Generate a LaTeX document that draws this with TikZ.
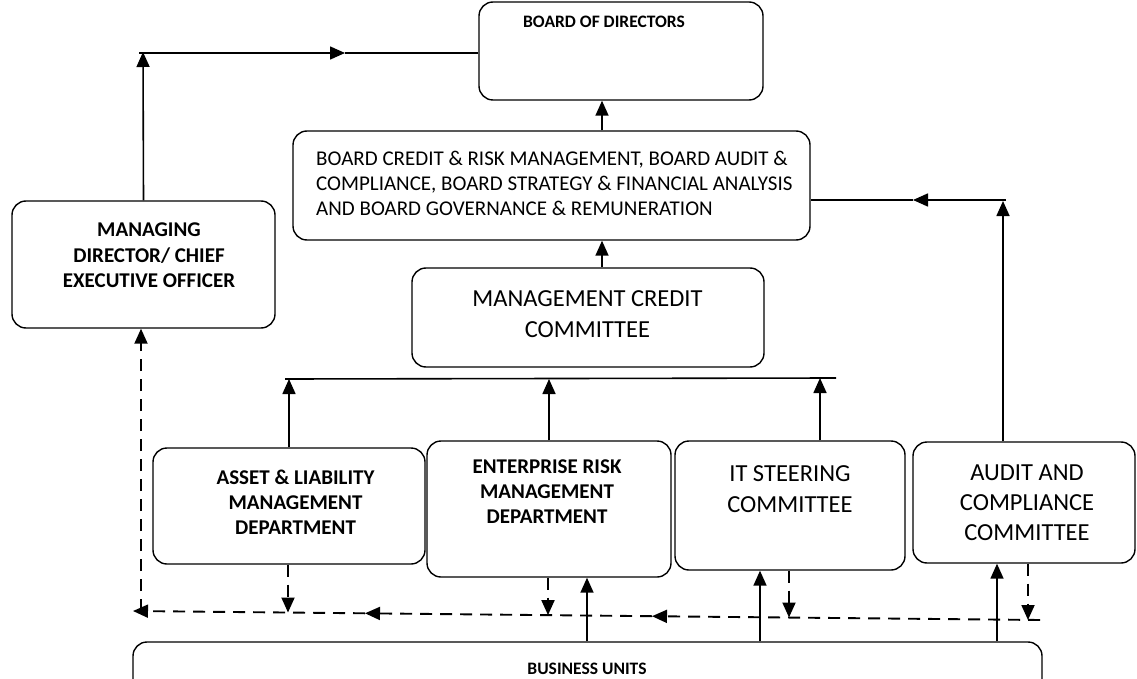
\documentclass[tikz,border=0pt]{standalone}
\usepackage{fontspec}
\setmainfont{Carlito}
\usetikzlibrary{arrows.meta}
\begin{document}
\begin{tikzpicture}[x=1pt,y=-1pt,
  box/.style={draw, line width=1.4pt, rounded corners=14pt, inner sep=0pt},
  txt/.style={align=center, inner sep=0pt},
  link/.style={line width=1.6pt},
  tip/.style={-{Triangle[length=15pt,width=13pt]}},
  dsh/.style={line width=1.9pt, dash pattern=on 12pt off 8pt}]
\useasboundingbox (0,0) rectangle (1137,679);
\clip (0,0) rectangle (1137,679);

% boxes
\node[box, minimum width=284, minimum height=98]  (board) at (621,51) {};
\node[box, minimum width=517, minimum height=109] (comm)  at (551.5,185.5) {};
\node[box, minimum width=263, minimum height=127] (md)    at (143.5,264.5) {};
\node[box, minimum width=352, minimum height=99]  (mcc)   at (588,317.5) {};
\node[box, minimum width=272, minimum height=116] (alm)   at (289,506) {};
\node[box, minimum width=244, minimum height=136] (erm)   at (549,509) {};
\node[box, minimum width=230, minimum height=129] (it)    at (790,505.5) {};
\node[box, minimum width=222, minimum height=121] (au)    at (1024,502.5) {};
\node[box, minimum width=909, minimum height=78]  (bu)    at (587.5,681) {};

% texts
\node[txt, font=\fontsize{17.5}{21}\selectfont\bfseries] (boardT) at (604,22) {BOARD OF DIRECTORS};
\node[txt, align=left, font=\fontsize{21}{25}\selectfont, anchor=west] (commT) at (316,183)
  {BOARD CREDIT \& RISK MANAGEMENT, BOARD AUDIT \&\\
   COMPLIANCE, BOARD STRATEGY \& FINANCIAL ANALYSIS\\
   AND BOARD GOVERNANCE \& REMUNERATION};
\node[txt, font=\fontsize{21}{25.5}\selectfont\bfseries] (mdT) at (149,255.5)
  {MANAGING\\DIRECTOR/ CHIEF\\EXECUTIVE OFFICER};
\node[txt, font=\fontsize{24.5}{31}\selectfont] (mccT) at (587.5,314.5)
  {MANAGEMENT CREDIT\\COMMITTEE};
\node[txt, font=\fontsize{21}{25}\selectfont\bfseries] (almT) at (295.5,502)
  {ASSET \& LIABILITY\\MANAGEMENT\\DEPARTMENT};
\node[txt, font=\fontsize{21}{25}\selectfont\bfseries] (ermT) at (547,492)
  {ENTERPRISE RISK\\MANAGEMENT\\DEPARTMENT};
\node[txt, font=\fontsize{24.5}{31}\selectfont] (itT) at (790,489)
  {IT STEERING\\COMMITTEE};
\node[txt, font=\fontsize{24.5}{30}\selectfont] (auT) at (1027,503)
  {AUDIT AND\\COMPLIANCE\\COMMITTEE};
\node[txt, font=\fontsize{17.5}{20}\selectfont\bfseries] (buT) at (587,669) {BUSINESS UNITS};

% helper coordinates
\coordinate (xA) at (602,0);
\coordinate (c1) at (143,52);
\coordinate (c1a) at (139,53);
\coordinate (m1) at (345,53);
\coordinate (barL) at (285,379);
\coordinate (barR) at (836,378);
\coordinate (itup) at (820,0);
\coordinate (auup) at (1003,0);
\coordinate (c2) at (1003,201);
\coordinate (c2a) at (1006,200);
\coordinate (m2) at (913,200);

% solid reporting lines
\draw[link,tip] (md.north) -- (c1);
\draw[link,tip] (c1a) -- (m1);
\draw[link] (m1) -- (board.west |- m1);
\draw[link,tip] (xA |- comm.north) -- (xA |- board.south);
\draw[link,tip] (xA |- mcc.north) -- (xA |- comm.south);
\draw[link] (barL) -- (barR);
\draw[link,tip] (alm.north) -- (alm.north |- barL);
\draw[link,tip] (erm.north) -- (erm.north |- barL);
\draw[link,tip] (itup |- it.north) -- (itup |- barR);
\draw[link,tip] (auup |- au.north) -- (c2);
\draw[link,tip] (c2a) -- (m2);
\draw[link] (m2) -- (comm.east |- m2);

% dashed feedback bus
\coordinate (d0) at (1040,620);
\coordinate (d1) at (652,616.2);
\coordinate (d2) at (365,613.3);
\coordinate (d3) at (133,611);
\coordinate (mdd) at (141,0);
\coordinate (b1) at (288,612.5);
\coordinate (b2) at (548,615.1);
\coordinate (b3) at (789,617.5);
\coordinate (b4) at (1028,620);
\draw[dsh,tip] (d0) -- (d1);
\draw[dsh,tip] (d1) -- (d2);
\draw[dsh,tip] (d2) -- (d3);
\draw[dsh,tip] (mdd |- d3) -- (mdd |- md.south);
\draw[dsh,tip] (b1 |- alm.south) -- (b1);
\draw[dsh,tip] (b2 |- erm.south) -- (b2);
\draw[dsh,tip] (b3 |- it.south) -- (b3);
\draw[dsh,tip] (b4 |- au.south) -- (b4);

% solid lines up from business units
\coordinate (u1) at (587,0);
\coordinate (u2) at (760,0);
\coordinate (u3) at (997,0);
\draw[link,tip] (u1 |- bu.north) -- (u1 |- erm.south);
\draw[link,tip] (u2 |- bu.north) -- (u2 |- it.south);
\draw[link,tip] (u3 |- bu.north) -- (u3 |- au.south);
\end{tikzpicture}
\end{document}
